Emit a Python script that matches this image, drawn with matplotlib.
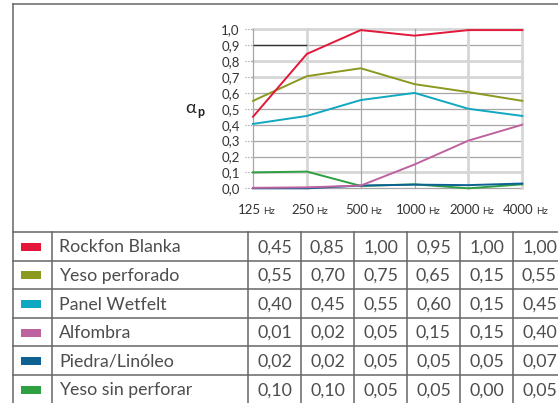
import matplotlib
matplotlib.use("Agg")
import matplotlib.pyplot as plt

plt.rcParams["font.family"] = ["Lato", "DejaVu Sans"]

# frecuencias del eje x
freqs = ["125", "250", "500", "1000", "2000", "4000"]

# curvas del gráfico
rockfon_line = [0.45, 0.845, 0.995, 0.96, 0.995, 0.995]
yeso_perf_line = [0.55, 0.705, 0.755, 0.655, 0.605, 0.55]
wetfelt_line = [0.405, 0.455, 0.555, 0.60, 0.50, 0.455]
alfombra_line = [0.003, 0.006, 0.017, 0.15, 0.30, 0.40]
piedra_line = [0.0, 0.0, 0.017, 0.023, 0.02, 0.03]
yeso_sin_line = [0.10, 0.105, 0.015, 0.025, 0.0, 0.025]

# valores de la tabla
names = ["Rockfon Blanka", "Yeso perforado", "Panel Wetfelt",
         "Alfombra", "Piedra/Linóleo", "Yeso sin perforar"]
rockfon_tab = [0.45, 0.85, 1.00, 0.95, 1.00, 1.00]
yeso_perf_tab = [0.55, 0.70, 0.75, 0.65, 0.15, 0.55]
wetfelt_tab = [0.40, 0.45, 0.55, 0.60, 0.15, 0.45]
alfombra_tab = [0.01, 0.02, 0.05, 0.15, 0.15, 0.40]
piedra_tab = [0.02, 0.02, 0.05, 0.05, 0.05, 0.07]
yeso_sin_tab = [0.10, 0.10, 0.05, 0.05, 0.00, 0.05]

colors = ["#e3173a", "#8c991f", "#10a8c0", "#bf62a0", "#0e6193", "#2ea043"]

lines = [rockfon_line, yeso_perf_line, wetfelt_line,
         alfombra_line, piedra_line, yeso_sin_line]
tables = [rockfon_tab, yeso_perf_tab, wetfelt_tab,
          alfombra_tab, piedra_tab, yeso_sin_tab]

W, H = 558, 403
fig = plt.figure(figsize=(W / 100, H / 100), dpi=100)

# capa de fondo en coordenadas de píxel (bordes y tabla)
bg = fig.add_axes([0, 0, 1, 1])
bg.set_xlim(0, W)
bg.set_ylim(H, 0)
bg.axis("off")

edge = "#666666"
bg.plot([13, W], [3.5, 3.5], color=edge, lw=1.1)
bg.plot([13, 13], [3.5, H], color=edge, lw=1.1)

row_top = 232
row_h = 28.6
col_lines = [52, 248, 301, 354, 407, 460, 513]
for i in range(7):
    y = row_top + i * row_h
    bg.plot([13, W], [y, y], color=edge, lw=1.1)
for x in col_lines:
    bg.plot([x, x], [row_top, H], color=edge, lw=1.1)

txt_color = "#4d4d4d"
for r, (name, vals, c) in enumerate(zip(names, tables, colors)):
    yc = row_top + r * row_h + row_h / 2
    bg.add_patch(plt.Rectangle((21, yc - 3.5), 20, 8, color=c, lw=0))
    bg.text(59, yc + 1, name, fontsize=12.8, color=txt_color, va="center")
    for j, v in enumerate(vals):
        xc = col_lines[j + 1] + 26.5
        s = f"{v:.2f}".replace(".", ",")
        bg.text(xc, yc + 1, s, fontsize=12.8, color=txt_color,
                va="center", ha="center")

# etiqueta alfa_p
bg.text(185, 113, "α", fontsize=13, color="#222222", va="baseline")
bg.text(197.5, 115.5, "p", fontsize=9, fontweight="bold",
        color="#222222", va="baseline")

# gráfico
ax = fig.add_axes([253 / W, (H - 188.3) / H, (522.3 - 253) / W, (188.3 - 29.3) / H])
ax.set_xlim(0, len(freqs) - 1)
ax.set_ylim(0, 1)

light = "#d6d6d6"
gray = "#a6a6a6"
yticks = [i / 10 for i in range(11)]
for yv in yticks:
    is_light = round(yv * 10) in (10, 8, 7, 1)
    ax.axhline(yv, color=light if is_light else gray,
               lw=2 if is_light else 0.9, zorder=1, clip_on=False)
for i in range(len(freqs)):
    is_light = i in (1, 4, 5)
    ax.axvline(i, color=light if is_light else gray,
               lw=2 if is_light else 0.9, zorder=1, clip_on=False)
ax.hlines(0.9, 0, 1, color="#333333", lw=1, zorder=2)

for vals, c in zip(lines[::-1], colors[::-1]):
    ax.plot(range(len(freqs)), vals, color=c, lw=1.4, zorder=3,
            clip_on=False, solid_joinstyle="miter")

for s in ax.spines.values():
    s.set_visible(False)

ax.set_xticks([])
ax.set_yticks(yticks)
ax.set_yticklabels([f"{v:.1f}".replace(".", ",") for v in yticks],
                   fontsize=9.5, color="#333333")
ax.tick_params(axis="y", length=0, pad=9.5)
ax.hlines(yticks, -0.03, 0, transform=ax.get_yaxis_transform(),
          colors="#999999", linestyles=(0, (1, 1.5)), lw=0.8, clip_on=False)

# etiquetas "125 Hz" etc: número + "Hz" pequeño sobre la misma línea base
renderer = fig.canvas.get_renderer()
for i, f in enumerate(freqs):
    num = ax.annotate(f, xy=(i, 0), xycoords=("data", "axes fraction"),
                      xytext=(0, -26), textcoords="offset pixels",
                      ha="left", va="baseline", fontsize=9.5,
                      color="#333333", annotation_clip=False)
    hz = ax.annotate("Hz", xy=(i, 0), xycoords=("data", "axes fraction"),
                     xytext=(0, -26), textcoords="offset pixels",
                     ha="left", va="baseline", fontsize=7,
                     color="#333333", annotation_clip=False)
    w1 = num.get_window_extent(renderer).width
    w2 = hz.get_window_extent(renderer).width
    start = 3 - (w1 + 2 + w2) / 2
    num.set_position((start, -26))
    hz.set_position((start + w1 + 2, -26))

fig.savefig("out.png", dpi=100)
